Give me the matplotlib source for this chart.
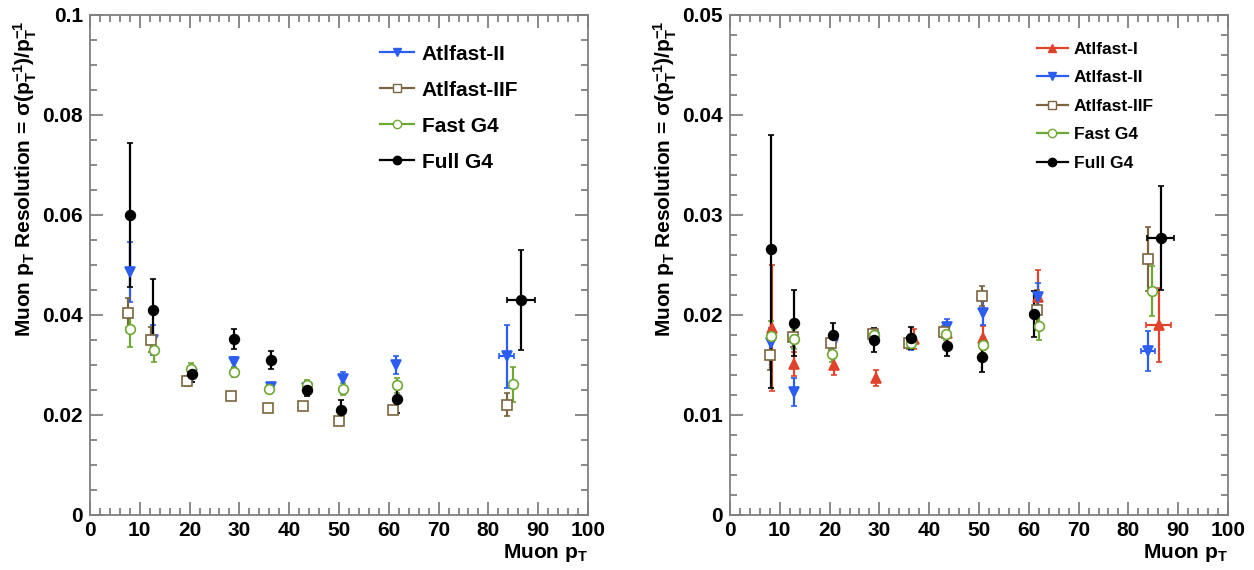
#!/usr/bin/env python3
"""
Muon pT resolution - comparacao das simulacoes rapidas com Full G4
"""

import matplotlib
matplotlib.use("Agg")
import matplotlib.pyplot as plt
from matplotlib.lines import Line2D
from matplotlib.ticker import MultipleLocator, FuncFormatter

# ---------------- dados: painel esquerdo ----------------
esq_af2_x = [8.0, 12.6, 20.4, 28.9, 36.3, 43.5, 50.9, 61.4, 83.7]
esq_af2_y = [0.0487, 0.0350, 0.0282, 0.0307, 0.0257, 0.0255, 0.0273, 0.0300, 0.0318]
esq_af2_ey = [0.0060, 0.0030, 0.0015, 0.0010, 0.0008, 0.0010, 0.0014, 0.0018, 0.0063]
esq_af2_ex = [0, 0, 0, 0, 0, 0, 0, 0, 1.5]

esq_af2f_x = [7.7, 12.2, 19.5, 28.3, 35.7, 42.8, 50.1, 60.9, 83.7]
esq_af2f_y = [0.0405, 0.0351, 0.0269, 0.0239, 0.0215, 0.0218, 0.0189, 0.0210, 0.0221]
esq_af2f_ey = [0.0030, 0.0025, 0.0010, 0.0003, 0.0003, 0.0003, 0.0003, 0.0008, 0.0023]

esq_fast_x = [8.0, 12.9, 20.2, 28.9, 35.9, 43.5, 50.9, 61.7, 84.9]
esq_fast_y = [0.0373, 0.0331, 0.0293, 0.0287, 0.0252, 0.0260, 0.0252, 0.0260, 0.0262]
esq_fast_ey = [0.0036, 0.0025, 0.0012, 0.0010, 0.0008, 0.0010, 0.0012, 0.0015, 0.0035]

esq_full_x = [8.0, 12.6, 20.4, 28.9, 36.3, 43.5, 50.5, 61.7, 86.5]
esq_full_y = [0.0600, 0.0410, 0.0282, 0.0353, 0.0310, 0.0251, 0.0211, 0.0232, 0.0431]
esq_full_ey = [0.0144, 0.0063, 0.0015, 0.0020, 0.0018, 0.0012, 0.0020, 0.0027, 0.0100]
esq_full_ex = [0, 0, 0, 0, 0, 0, 0, 0, 2.8]

# ---------------- dados: painel direito ----------------
dir_af1_x = [8.4, 12.9, 20.9, 29.3, 36.9, 43.6, 50.9, 61.9, 86.1]
dir_af1_y = [0.0187, 0.0151, 0.0150, 0.0137, 0.0176, 0.0182, 0.0177, 0.0218, 0.0190]
dir_af1_ey = [0.0063, 0.0012, 0.0010, 0.0008, 0.0010, 0.0009, 0.0012, 0.0027, 0.0037]
dir_af1_ex = [0, 0, 0, 0, 0, 0, 0, 0, 2.5]

dir_af2_x = [8.2, 12.9, 20.6, 29.0, 36.3, 43.6, 50.9, 61.9, 83.9]
dir_af2_y = [0.0172, 0.0123, 0.0171, 0.0178, 0.0171, 0.0188, 0.0202, 0.0218, 0.0164]
dir_af2_ey = [0.0015, 0.0014, 0.0008, 0.0006, 0.0006, 0.0008, 0.0012, 0.0014, 0.0020]
dir_af2_ex = [0, 0, 0, 0, 0, 0, 0, 0, 1.4]

dir_af2f_x = [8.0, 12.7, 20.3, 28.8, 36.0, 43.0, 50.7, 61.7, 84.0]
dir_af2f_y = [0.0160, 0.0178, 0.0172, 0.0181, 0.0172, 0.0183, 0.0219, 0.0205, 0.0256]
dir_af2f_ey = [0.0015, 0.0010, 0.0007, 0.0005, 0.0006, 0.0006, 0.0010, 0.0020, 0.0032]

dir_fast_x = [8.2, 12.9, 20.4, 29.0, 36.3, 43.4, 50.9, 62.0, 84.8]
dir_fast_y = [0.0179, 0.0176, 0.0161, 0.0180, 0.0172, 0.0181, 0.0170, 0.0189, 0.0224]
dir_fast_ey = [0.0015, 0.0010, 0.0008, 0.0005, 0.0006, 0.0006, 0.0008, 0.0014, 0.0025]

dir_full_x = [8.2, 12.9, 20.6, 29.0, 36.3, 43.5, 50.7, 61.0, 86.5]
dir_full_y = [0.0266, 0.0192, 0.0180, 0.0175, 0.0177, 0.0169, 0.0158, 0.0201, 0.0277]
dir_full_ey_lo = [0.0139, 0.0033, 0.0012, 0.0012, 0.0011, 0.0010, 0.0015, 0.0023, 0.0052]
dir_full_ey_hi = [0.0114, 0.0033, 0.0012, 0.0012, 0.0011, 0.0010, 0.0015, 0.0023, 0.0052]
dir_full_ex = [0, 0, 0, 0, 0, 0, 0, 0, 2.7]

# ---------------- estilo ----------------
AZUL = "#2b5ef0"
MARROM = "#7a6540"
VERDE = "#6da832"
VERMELHO = "#e0432b"
PRETO = "black"
CINZA = "#808080"

plt.rcParams["font.family"] = ["Liberation Sans", "DejaVu Sans"]
plt.rcParams["font.weight"] = "bold"
plt.rcParams["mathtext.fontset"] = "custom"
plt.rcParams["mathtext.rm"] = "Liberation Sans:bold"
plt.rcParams["mathtext.it"] = "Liberation Sans:bold"
plt.rcParams["mathtext.bf"] = "Liberation Sans:bold"

ESTILOS = {
    "Atlfast-I": dict(color=VERMELHO, marker="^", mfc=VERMELHO),
    "Atlfast-II": dict(color=AZUL, marker="v", mfc=AZUL),
    "Atlfast-IIF": dict(color=MARROM, marker="s", mfc="white"),
    "Fast G4": dict(color=VERDE, marker="o", mfc="white"),
    "Full G4": dict(color=PRETO, marker="o", mfc=PRETO),
}


def desenhar(ax, nome, x, y, yerr, xerr=None):
    st = ESTILOS[nome]
    ax.errorbar(x, y, yerr=yerr, xerr=xerr, fmt=st["marker"], color=st["color"],
                mfc=st["mfc"], mec=st["color"], ms=7, mew=1.2,
                elinewidth=1.6, capsize=2, capthick=1.5, zorder=3)


def formatar_eixo(ax, ymax, ymaj, ymin):
    ax.set_xlim(0, 100)
    ax.set_ylim(0, ymax)
    ax.xaxis.set_major_locator(MultipleLocator(10))
    ax.xaxis.set_minor_locator(MultipleLocator(2))
    ax.yaxis.set_major_locator(MultipleLocator(ymaj))
    ax.yaxis.set_minor_locator(MultipleLocator(ymin))
    ax.yaxis.set_major_formatter(FuncFormatter(lambda v, p: f"{v:g}"))
    ax.tick_params(which="both", direction="in", top=True, right=True,
                   color=CINZA, width=1.3, labelsize=15)
    ax.tick_params(which="major", length=9.5)
    ax.tick_params(which="minor", length=4.8)
    ax.tick_params(axis="y", pad=5)
    ax.tick_params(axis="x", pad=4)
    for s in ax.spines.values():
        s.set_color(CINZA)
        s.set_linewidth(1.3)
    for lab in ax.get_xticklabels() + ax.get_yticklabels():
        lab.set_fontweight("bold")

    ax.set_xlabel(r"Muon p$_\mathrm{T}$", fontsize=15, fontweight="bold",
                  ha="right", va="top")
    ax.xaxis.set_label_coords(1.0, -0.055)
    ax.set_ylabel(r"Muon p$_\mathrm{T}$ Resolution = σ(p$_\mathrm{T}^\mathrm{-1}$)/p$_\mathrm{T}^\mathrm{-1}$",
                  fontsize=15, fontweight="bold", ha="right", va="center")
    ax.yaxis.set_label_coords(-0.13, 0.99)


def legenda(ax, nomes, fs, pos, espaco, hl, pad):
    handles = []
    for n in nomes:
        st = ESTILOS[n]
        handles.append(Line2D([], [], color=st["color"], lw=1.6, marker=st["marker"],
                              mfc=st["mfc"], mec=st["color"], ms=6, mew=1.0))
    ax.legend(handles, nomes, loc="upper left", bbox_to_anchor=pos, frameon=False,
              prop={"weight": "bold", "size": fs}, labelspacing=espaco,
              handlelength=hl, handletextpad=pad, borderpad=0, borderaxespad=0)


fig = plt.figure(figsize=(12.54, 5.70), dpi=100)
ax1 = fig.add_axes([90 / 1254, 55 / 570, 498 / 1254, 500 / 570])
ax2 = fig.add_axes([730 / 1254, 55 / 570, 498 / 1254, 500 / 570])

# painel esquerdo
desenhar(ax1, "Atlfast-II", esq_af2_x, esq_af2_y, esq_af2_ey, esq_af2_ex)
desenhar(ax1, "Atlfast-IIF", esq_af2f_x, esq_af2f_y, esq_af2f_ey)
desenhar(ax1, "Fast G4", esq_fast_x, esq_fast_y, esq_fast_ey)
desenhar(ax1, "Full G4", esq_full_x, esq_full_y, esq_full_ey, esq_full_ex)
formatar_eixo(ax1, 0.1, 0.02, 0.005)
legenda(ax1, ["Atlfast-II", "Atlfast-IIF", "Fast G4", "Full G4"], 15,
        (0.582, 0.941), 0.82, 1.63, 0.38)

# painel direito
desenhar(ax2, "Atlfast-I", dir_af1_x, dir_af1_y, dir_af1_ey, dir_af1_ex)
desenhar(ax2, "Atlfast-II", dir_af2_x, dir_af2_y, dir_af2_ey, dir_af2_ex)
desenhar(ax2, "Atlfast-IIF", dir_af2f_x, dir_af2f_y, dir_af2f_ey)
desenhar(ax2, "Fast G4", dir_fast_x, dir_fast_y, dir_fast_ey)
desenhar(ax2, "Full G4", dir_full_x, dir_full_y, [dir_full_ey_lo, dir_full_ey_hi], dir_full_ex)
formatar_eixo(ax2, 0.05, 0.01, 0.002)
legenda(ax2, ["Atlfast-I", "Atlfast-II", "Atlfast-IIF", "Fast G4", "Full G4"], 12.5,
        (0.616, 0.947), 0.77, 1.78, 0.35)

fig.savefig("out.png", dpi=100, facecolor="white")
